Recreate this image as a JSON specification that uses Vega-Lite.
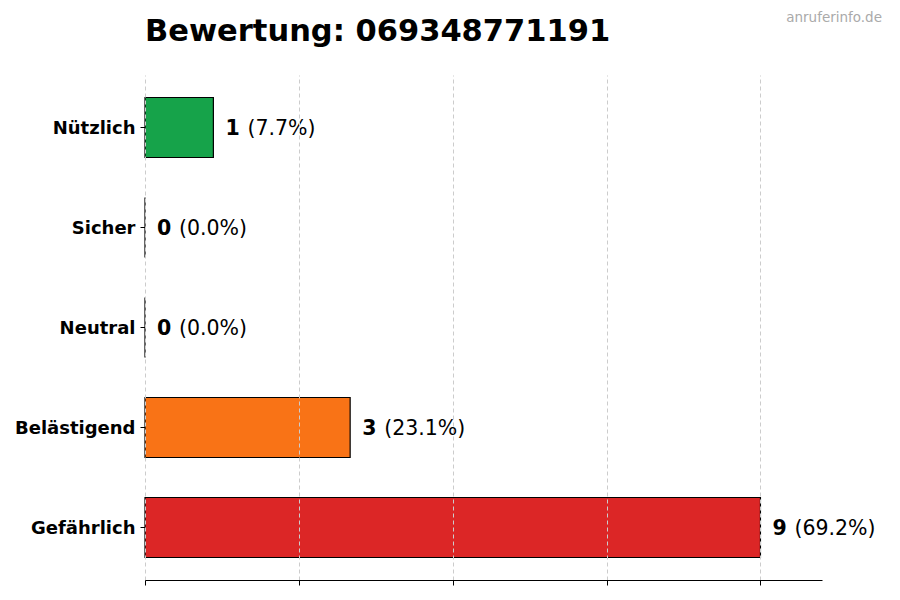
{
  "$schema": "https://vega.github.io/schema/vega-lite/v6.json",
  "autosize": {"type": "none"},
  "width": 677,
  "height": 505,
  "padding": {"left": 145, "top": 75, "right": 78, "bottom": 20},
  "background": "white",
  "config": {
    "view": {"stroke": null},
    "font": "DejaVu Sans"
  },
  "title": {
    "text": "Bewertung: 069348771191",
    "anchor": "start",
    "frame": "group",
    "fontSize": 30.5,
    "fontWeight": "bold",
    "color": "black",
    "font": "DejaVu Sans",
    "offset": -36
  },
  "data": {
    "values": [
      {"kategorie": "Nützlich", "anzahl": 1, "pct": 7.7},
      {"kategorie": "Sicher", "anzahl": 0, "pct": 0.0},
      {"kategorie": "Neutral", "anzahl": 0, "pct": 0.0},
      {"kategorie": "Belästigend", "anzahl": 3, "pct": 23.1},
      {"kategorie": "Gefährlich", "anzahl": 9, "pct": 69.2}
    ]
  },
  "transform": [
    {"calculate": "'(' + format(datum.pct, '.1f') + '%)'", "as": "pct_label"}
  ],
  "encoding": {
    "y": {
      "field": "kategorie",
      "type": "nominal",
      "sort": ["Nützlich", "Sicher", "Neutral", "Belästigend", "Gefährlich"],
      "scale": {"paddingInner": 0.4, "paddingOuter": 0.225},
      "axis": {
        "title": null,
        "domain": false,
        "tickSize": 5,
        "tickColor": "black",
        "labelFont": "DejaVu Sans",
        "labelFontSize": 18,
        "labelFontWeight": "bold",
        "labelColor": "black",
        "labelPadding": 5,
        "labelOffset": 1
      }
    }
  },
  "layer": [
    {
      "mark": {"type": "bar", "stroke": "black", "strokeWidth": 1.2},
      "encoding": {
        "x": {
          "field": "anzahl",
          "type": "quantitative",
          "scale": {"domain": [0, 9.9], "nice": false},
          "axis": {
            "title": null,
            "labels": false,
            "values": [0, 2.25, 4.5, 6.75, 9],
            "grid": true,
            "gridDash": [4, 3],
            "gridColor": "#cccccc",
            "gridWidth": 1,
            "domainColor": "black",
            "domainWidth": 1.2,
            "tickColor": "black",
            "tickSize": 5,
            "zindex": 1
          }
        },
        "color": {
          "field": "kategorie",
          "type": "nominal",
          "scale": {
            "domain": ["Nützlich", "Sicher", "Neutral", "Belästigend", "Gefährlich"],
            "range": ["#16a34a", "#2563eb", "#9ca3af", "#f97316", "#dc2626"]
          },
          "legend": null
        }
      }
    },
    {
      "mark": {"type": "text", "align": "left", "baseline": "middle", "dx": 12, "dy": 1, "fontSize": 20.5, "fontWeight": "bold", "color": "black"},
      "encoding": {
        "x": {"field": "anzahl", "type": "quantitative"},
        "text": {"field": "anzahl", "type": "quantitative"}
      }
    },
    {
      "mark": {"type": "text", "align": "left", "baseline": "middle", "dx": 34, "dy": 1, "fontSize": 20.5, "color": "black"},
      "encoding": {
        "x": {"field": "anzahl", "type": "quantitative"},
        "text": {"field": "pct_label", "type": "nominal"}
      }
    },
    {
      "data": {"values": [{"t": "anruferinfo.de"}]},
      "mark": {"type": "text", "align": "right", "baseline": "alphabetic", "fontSize": 13.5, "color": "#aaaaaa"},
      "encoding": {
        "x": {"value": 737},
        "y": {"value": -53},
        "text": {"field": "t", "type": "nominal"}
      }
    }
  ]
}
